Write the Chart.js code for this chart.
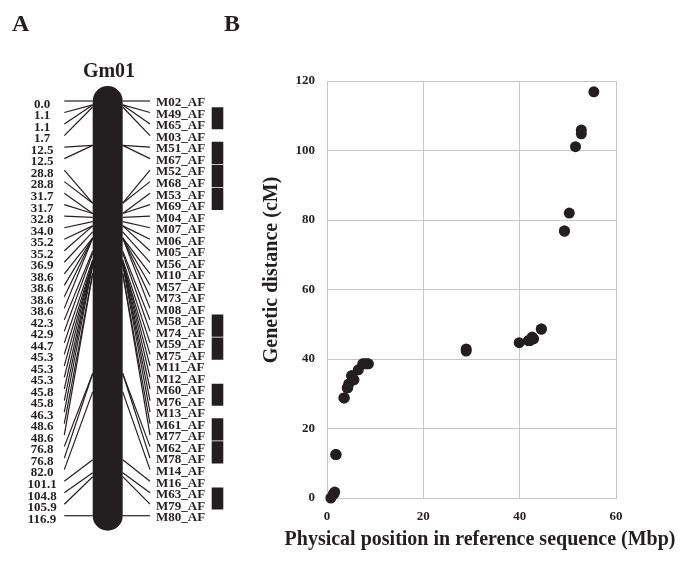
<!DOCTYPE html>
<html>
<head>
<meta charset="utf-8">
<script src="https://cdn.jsdelivr.net/npm/chart.js@4.4.1/dist/chart.umd.min.js"></script>
<style>
    html, body { margin: 0; padding: 0; background: #ffffff; }
    #wrap { position: relative; width: 690px; height: 563px; overflow: hidden; }
    #chtLinkageMap { position: absolute; left: 0; top: 0; }
    #chtPhysicalGenetic { position: absolute; left: 250px; top: 0; }
</style>
</head>
<body>
<div id="wrap">
    <canvas id="chtLinkageMap" width="250" height="563"></canvas>
    <canvas id="chtPhysicalGenetic" width="440" height="563"></canvas>
</div>
<script>
'use strict';

// Gm01 linkage map (cM) and marker names, top to bottom
const mapPositions = [0.0, 1.1, 1.1, 1.7, 12.5, 12.5, 28.8, 28.8, 31.7, 31.7, 32.8, 34.0, 35.2, 35.2, 36.9,
    38.6, 38.6, 38.6, 38.6, 42.3, 42.9, 44.7, 45.3, 45.3, 45.3, 45.8, 45.8, 46.3, 48.6, 48.6,
    76.8, 76.8, 82.0, 101.1, 104.8, 105.9, 116.9];
const markerNames = ['M02_AF', 'M49_AF', 'M65_AF', 'M03_AF', 'M51_AF', 'M67_AF', 'M52_AF', 'M68_AF', 'M53_AF', 'M69_AF',
    'M04_AF', 'M07_AF', 'M06_AF', 'M05_AF', 'M56_AF', 'M10_AF', 'M57_AF', 'M73_AF', 'M08_AF', 'M58_AF',
    'M74_AF', 'M59_AF', 'M75_AF', 'M11_AF', 'M12_AF', 'M60_AF', 'M76_AF', 'M13_AF', 'M61_AF', 'M77_AF',
    'M62_AF', 'M78_AF', 'M14_AF', 'M16_AF', 'M63_AF', 'M79_AF', 'M80_AF'];
// first marker row of each bracketed marker pair
const pairStartRows = [1, 4, 6, 8, 19, 21, 25, 28, 30, 34];

// panel B: physical position (Mbp) vs genetic distance (cM)
const physicalMbp = [0.8, 1.3, 1.4, 1.6, 1.8, 1.9, 3.5, 3.6, 4.2, 4.3, 4.5, 5.6, 5.1, 5.2, 6.5,
    7.4, 7.8, 8.2, 8.6, 28.9, 28.9, 39.9, 41.8, 42.0, 42.1, 42.6, 42.9, 42.6, 44.5, 44.5,
    49.3, 49.3, 50.3, 51.6, 52.8, 52.8, 55.4];
const geneticCm = mapPositions.slice();
const xTicks = [0, 20, 40, 60];
const yTicks = [0, 20, 40, 60, 80, 100, 120];

const ink = '#231f20';
const serif = "'Liberation Serif', 'Times New Roman', serif";

// linkage map layout (pixels in the left canvas)
const rowTop = 101;
const rowStep = 11.52;
const chromX = 107.7;
const leftLineX = [64.3, 92.7];
const rightLineX = [122.7, 150];
const blockX = 217.5;

const lastRow = markerNames.length - 1;
const maxCm = mapPositions[mapPositions.length - 1];
const cmToRow = (cm) => cm / maxCm * lastRow;

var mapDatasets = [];
mapDatasets.push({
    data: [{ x: chromX, y: cmToRow(0) }, { x: chromX, y: cmToRow(maxCm) }],
    showLine: true, borderColor: ink, borderWidth: 30, borderCapStyle: 'round', pointRadius: 0
});
for (var i = 0; i < pairStartRows.length; i++) {
    var r = pairStartRows[i];
    mapDatasets.push({
        data: [{ x: blockX, y: r - 0.46 }, { x: blockX, y: r + 1.46 }],
        showLine: true, borderColor: ink, borderWidth: 11.6, borderCapStyle: 'butt', pointRadius: 0
    });
}
for (var i = 0; i < mapPositions.length; i++) {
    var cmRow = cmToRow(mapPositions[i]);
    mapDatasets.push({
        data: [{ x: leftLineX[0], y: i }, { x: leftLineX[1], y: cmRow }],
        showLine: true, borderColor: ink, borderWidth: 1.2, pointRadius: 0
    });
    mapDatasets.push({
        data: [{ x: rightLineX[0], y: cmRow }, { x: rightLineX[1], y: i }],
        showLine: true, borderColor: ink, borderWidth: 1.2, pointRadius: 0
    });
}

const mapLabels = {
    id: 'mapLabels',
    afterDatasetsDraw(chart) {
        var ctx = chart.ctx;
        var yScale = chart.scales.y;
        ctx.save();
        ctx.fillStyle = ink;
        ctx.textBaseline = 'middle';
        ctx.font = 'bold 13px ' + serif;
        for (var i = 0; i < mapPositions.length; i++) {
            var y = yScale.getPixelForValue(i);
            ctx.textAlign = 'center';
            ctx.fillText(mapPositions[i].toFixed(1), 42, y + 3.5);
            ctx.textAlign = 'left';
            ctx.fillText(markerNames[i], 156, y + 2);
        }
        ctx.textBaseline = 'alphabetic';
        ctx.textAlign = 'center';
        ctx.font = 'bold 20px ' + serif;
        ctx.fillText('Gm01', 109, 77);
        ctx.textAlign = 'left';
        ctx.font = 'bold 24px ' + serif;
        ctx.fillText('A', 12, 31);
        ctx.fillText('B', 224, 31);
        ctx.restore();
    }
};

new Chart(document.getElementById('chtLinkageMap'), {
    type: 'scatter',
    data: { datasets: mapDatasets },
    options: {
        responsive: false,
        animation: false,
        events: [],
        layout: { padding: 0 },
        plugins: { legend: { display: false }, tooltip: { enabled: false } },
        scales: {
            x: { type: 'linear', display: false, min: 0, max: 250 },
            y: {
                type: 'linear', display: false, reverse: true,
                min: -rowTop / rowStep, max: (563 - rowTop) / rowStep
            }
        }
    },
    plugins: [mapLabels]
});

const axisTitles = {
    id: 'axisTitles',
    afterDraw(chart) {
        var ctx = chart.ctx;
        var area = chart.chartArea;
        ctx.save();
        ctx.fillStyle = ink;
        ctx.font = 'bold 20px ' + serif;
        ctx.textAlign = 'center';
        ctx.textBaseline = 'middle';
        ctx.fillText('Physical position in reference sequence (Mbp)', area.left + 153, area.bottom + 42);
        ctx.translate(area.left - 55, area.top + 189);
        ctx.rotate(-Math.PI / 2);
        ctx.fillText('Genetic distance (cM)', 0, 0);
        ctx.restore();
    }
};

const gridColor = '#c6c6c6';

new Chart(document.getElementById('chtPhysicalGenetic'), {
    type: 'scatter',
    data: {
        datasets: [{
            data: physicalMbp.map((x, i) => ({ x: x, y: geneticCm[i] })),
            backgroundColor: ink,
            borderWidth: 0,
            pointRadius: 5.5,
            clip: false
        }]
    },
    options: {
        responsive: false,
        animation: false,
        events: [],
        layout: { padding: { left: 0, top: 81, right: 74, bottom: 10 } },
        plugins: { legend: { display: false }, tooltip: { enabled: false } },
        scales: {
            x: {
                type: 'linear', min: xTicks[0], max: xTicks[xTicks.length - 1],
                afterBuildTicks: (scale) => { scale.ticks = xTicks.map(v => ({ value: v })); },
                afterFit: (scale) => { scale.height = 55; },
                grid: { color: gridColor, lineWidth: 1, drawTicks: false },
                border: { color: gridColor },
                ticks: { padding: 11, color: ink, font: { family: serif, size: 13, weight: 'bold' } }
            },
            y: {
                type: 'linear', min: yTicks[0], max: yTicks[yTicks.length - 1],
                afterBuildTicks: (scale) => { scale.ticks = yTicks.map(v => ({ value: v })); },
                afterFit: (scale) => { scale.width = 77; },
                grid: { color: gridColor, lineWidth: 1, drawTicks: false },
                border: { color: gridColor },
                ticks: { padding: 12, color: ink, font: { family: serif, size: 13, weight: 'bold' } }
            }
        }
    },
    plugins: [axisTitles]
});
</script>
</body>
</html>
